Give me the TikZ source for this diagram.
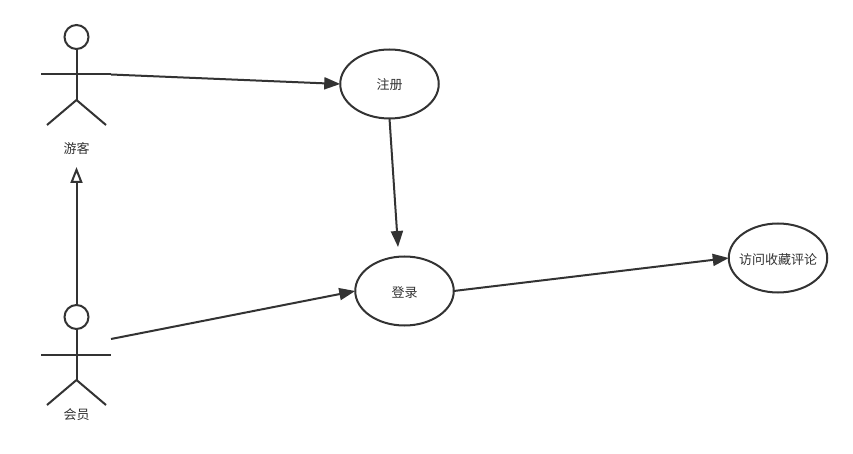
\documentclass[tikz,border=0pt]{standalone}
\usepackage{fontspec}
\setmainfont{Noto Sans CJK SC}[Scale=1]
\usetikzlibrary{arrows.meta,shapes.geometric}
\definecolor{ink}{HTML}{333333}
\newcommand{\lowered}[1]{\makebox[0pt]{\raisebox{-6pt}[0pt][0pt]{#1}}}
\tikzset{
  usecase/.style={draw=ink,line width=2pt,ellipse,minimum width=98.5pt,minimum height=69pt,inner sep=0pt,outer sep=0pt,text=ink,font=\fontsize{13}{15}\selectfont},
  actorhead/.style={draw=ink,line width=2pt,circle,minimum size=24pt,inner sep=0pt,outer sep=0pt},
  actorline/.style={draw=ink,line width=2pt,line cap=butt},
  actorlabel/.style={text=ink,inner sep=0pt,font=\fontsize{13}{15}\selectfont},
  assoc/.style={draw=ink,line width=2pt,-{Triangle[length=16pt,width=12pt,fill=ink]}},
  inherit/.style={draw=ink,line width=2pt,-{Triangle[open,length=16pt,width=12pt,fill=white]}}
}
\begin{document}
\begin{tikzpicture}[x=1pt,y=-1pt]
\useasboundingbox (0,0) rectangle (853,454);
\fill[white] (0,0) rectangle (853,454);

% use cases
\node[usecase] (reg) at (389.5,84) {\lowered{注册}};
\node[usecase] (login) at (404.5,291) {\lowered{登录}};
\node[usecase] (visit) at (778,258) {\lowered{访问收藏评论}};

% guest actor
\node[actorhead] (ghead) at (76.5,37) {};
\coordinate (garmL) at (41,74.5);
\coordinate (garmR) at (111,74.5);
\coordinate (ghip) at (76.5,100);
\coordinate (gfootL) at (47,125);
\coordinate (gfootR) at (106,125);
\draw[actorline] (ghead.south) -- (ghip);
\draw[actorline] (garmL) -- (garmR);
\draw[actorline] (gfootL) -- (ghip) -- (gfootR);
\node[actorlabel] (glabel) at (76.5,149) {游客};

% member actor
\node[actorhead] (mhead) at (76.5,317) {};
\coordinate (marmL) at (41,354.5);
\coordinate (marmR) at (111,354.5);
\coordinate (mhip) at (76.5,380);
\coordinate (mfootL) at (47,405);
\coordinate (mfootR) at (106,405);
\draw[actorline] (mhead.south) -- (mhip);
\draw[actorline] (marmL) -- (marmR);
\draw[actorline] (mfootL) -- (mhip) -- (mfootR);
\node[actorlabel] (mlabel) at (76.5,415) {会员};

% connectors
\coordinate (gtip) at (76.5,167);
\coordinate (mstart) at (111,339);
\coordinate (logintop) at (398,247);
\draw[inherit] (mhead.north) -- (gtip);
\draw[assoc] (garmR) -- (reg.west);
\draw[assoc] (reg.south) -- (logintop);
\draw[assoc] (mstart) -- (login.west);
\draw[assoc] (login.east) -- (visit.west);
\end{tikzpicture}
\end{document}
